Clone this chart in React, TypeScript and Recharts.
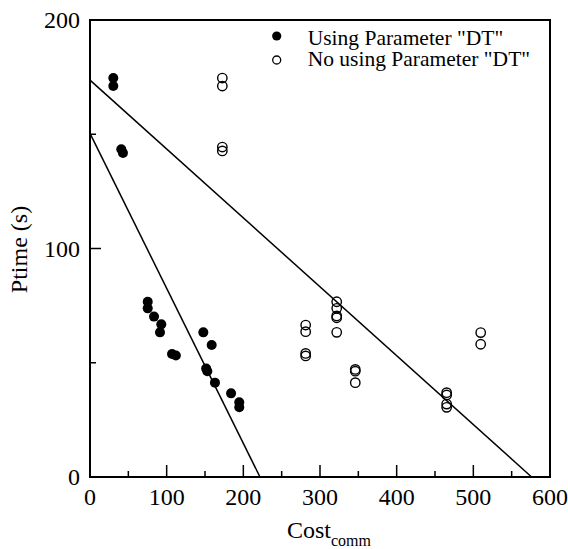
import React from 'react';
import { ScatterChart, Scatter, XAxis, YAxis, ReferenceLine, ReferenceArea, Legend, Label } from 'recharts';

// "Using Parameter DT" (filled markers)
const usingParam = [
  { x: 30.4, y: 174.6 },
  { x: 30.4, y: 171.1 },
  { x: 40.8, y: 143.4 },
  { x: 43.0, y: 141.8 },
  { x: 75.3, y: 76.7 },
  { x: 75.3, y: 73.8 },
  { x: 83.5, y: 70.2 },
  { x: 93.0, y: 66.8 },
  { x: 91.3, y: 63.3 },
  { x: 107.0, y: 53.8 },
  { x: 112.0, y: 53.2 },
  { x: 147.8, y: 63.3 },
  { x: 158.7, y: 57.8 },
  { x: 151.5, y: 47.5 },
  { x: 153.0, y: 46.3 },
  { x: 163.0, y: 41.3 },
  { x: 184.0, y: 36.6 },
  { x: 194.7, y: 32.7 },
  { x: 194.7, y: 30.5 },
];

// "No using Parameter DT" (open markers)
const noUsingParam = [
  { x: 172.6, y: 174.6 },
  { x: 172.6, y: 171.1 },
  { x: 172.6, y: 144.4 },
  { x: 172.6, y: 142.7 },
  { x: 281.3, y: 66.5 },
  { x: 281.3, y: 63.6 },
  { x: 281.3, y: 54.1 },
  { x: 281.3, y: 53.0 },
  { x: 321.8, y: 76.7 },
  { x: 321.8, y: 73.8 },
  { x: 321.8, y: 70.5 },
  { x: 321.8, y: 69.7 },
  { x: 321.8, y: 63.3 },
  { x: 346.0, y: 47.1 },
  { x: 346.0, y: 46.3 },
  { x: 346.0, y: 41.3 },
  { x: 465.2, y: 36.9 },
  { x: 465.2, y: 35.9 },
  { x: 465.2, y: 31.9 },
  { x: 465.2, y: 30.5 },
  { x: 509.6, y: 63.2 },
  { x: 509.6, y: 58.1 },
];

// fitted lines
const fitUsing = [{ x: 0, y: 150.4 }, { x: 221.7, y: 0 }];
const fitNoUsing = [{ x: 0, y: 173.7 }, { x: 576, y: 0 }];

const xTicks = [0, 50, 100, 150, 200, 250, 300, 350, 400, 450, 500, 550, 600];
const yTicks = [0, 50, 100, 150, 200];
const legendLabels = ['Using Parameter "DT"', 'No using Parameter "DT"'];

const FONT = '"Liberation Serif", "Times New Roman", Times, serif';

const XTick = (props: any) => {
  const { x, y, payload } = props;
  const major = payload.value % 100 === 0;
  return (
    <g>
      <line x1={x} x2={x} y1={y} y2={y - (major ? 12 : 6)} stroke="#000" strokeWidth={1.5} />
      {major && (
        <text x={x} y={y + 28} textAnchor="middle" fontSize={24} fontFamily={FONT} fill="#000">
          {payload.value}
        </text>
      )}
    </g>
  );
};

const YTick = (props: any) => {
  const { x, y, payload } = props;
  const major = payload.value % 100 === 0;
  return (
    <g>
      <line x1={x} x2={x + (major ? 11 : 6)} y1={y} y2={y} stroke="#000" strokeWidth={1.5} />
      {major && (
        <text x={x - 10} y={y + 8} textAnchor="end" fontSize={24} fontFamily={FONT} fill="#000">
          {payload.value}
        </text>
      )}
    </g>
  );
};

const CostLabel = (props: any) => {
  const vb = props.viewBox || { x: 90, y: 477, width: 460 };
  const cx = vb.x + vb.width / 2 + 9;
  return (
    <text x={cx} y={vb.y + 61} textAnchor="middle" fontFamily={FONT} fill="#000" fontSize={24}>
      Cost
      <tspan dy={8} fontSize={16}>comm</tspan>
    </text>
  );
};

const PtimeLabel = (props: any) => {
  const vb = props.viewBox || { x: 0, y: 20, width: 90, height: 457 };
  const cx = 27;
  const cy = vb.y + vb.height / 2 + 1;
  return (
    <text
      x={cx}
      y={cy}
      transform={`rotate(-90, ${cx}, ${cy})`}
      textAnchor="middle"
      fontFamily={FONT}
      fontSize={24}
      fill="#000"
    >
      Ptime (s)
    </text>
  );
};

const renderLegend = () => (
  <svg width={300} height={54} style={{ display: 'block', overflow: 'visible' }}>
    <circle cx={16.7} cy={16} r={4.6} fill="#000" />
    <text x={47.7} y={25} fontSize={21.5} fontFamily={FONT} fill="#000">
      {legendLabels[0]}
    </text>
    <circle cx={16.7} cy={40} r={4} fill="#fff" stroke="#000" strokeWidth={1.3} />
    <text x={47.7} y={46} fontSize={21.5} fontFamily={FONT} fill="#000">
      {legendLabels[1]}
    </text>
  </svg>
);

const FilledDot = (props: any) => <circle cx={props.cx} cy={props.cy} r={5} fill="#000" />;
const OpenDot = (props: any) => (
  <circle cx={props.cx} cy={props.cy} r={4.7} fill="none" stroke="#000" strokeWidth={1.4} />
);

export default function App() {
  return (
    <div style={{ position: 'absolute', left: 0, top: 0, background: '#fff' }}>
      <ScatterChart width={568} height={549} margin={{ top: 20, right: 18, bottom: 0, left: 0 }}>
        <ReferenceArea
          x1={0}
          x2={600}
          y1={0}
          y2={200}
          fill="none"
          fillOpacity={0}
          stroke="#000"
          strokeWidth={2}
          strokeOpacity={1}
        />
        <XAxis
          type="number"
          dataKey="x"
          domain={[0, 600]}
          ticks={xTicks}
          interval={0}
          height={72}
          tickSize={0}
          tickMargin={0}
          tickLine={false}
          axisLine={{ stroke: '#000', strokeWidth: 2 }}
          tick={<XTick />}
        >
          <Label content={<CostLabel />} />
        </XAxis>
        <YAxis
          type="number"
          dataKey="y"
          domain={[0, 200]}
          ticks={yTicks}
          interval={0}
          width={90}
          tickSize={0}
          tickMargin={0}
          tickLine={false}
          axisLine={{ stroke: '#000', strokeWidth: 2 }}
          tick={<YTick />}
        >
          <Label content={<PtimeLabel />} />
        </YAxis>
        <ReferenceLine
          segment={fitUsing}
          stroke="#000"
          strokeWidth={1.5}
        />
        <ReferenceLine
          segment={fitNoUsing}
          stroke="#000"
          strokeWidth={1.5}
        />
        <Scatter
          name={legendLabels[0]}
          data={usingParam}
          shape={<FilledDot />}
          isAnimationActive={false}
        />
        <Scatter
          name={legendLabels[1]}
          data={noUsingParam}
          shape={<OpenDot />}
          isAnimationActive={false}
        />
        <Legend
          layout="vertical"
          align="center"
          verticalAlign="middle"
          content={renderLegend}
          wrapperStyle={{ top: 20, left: 260, width: 300, height: 54 }}
        />
      </ScatterChart>
    </div>
  );
}
